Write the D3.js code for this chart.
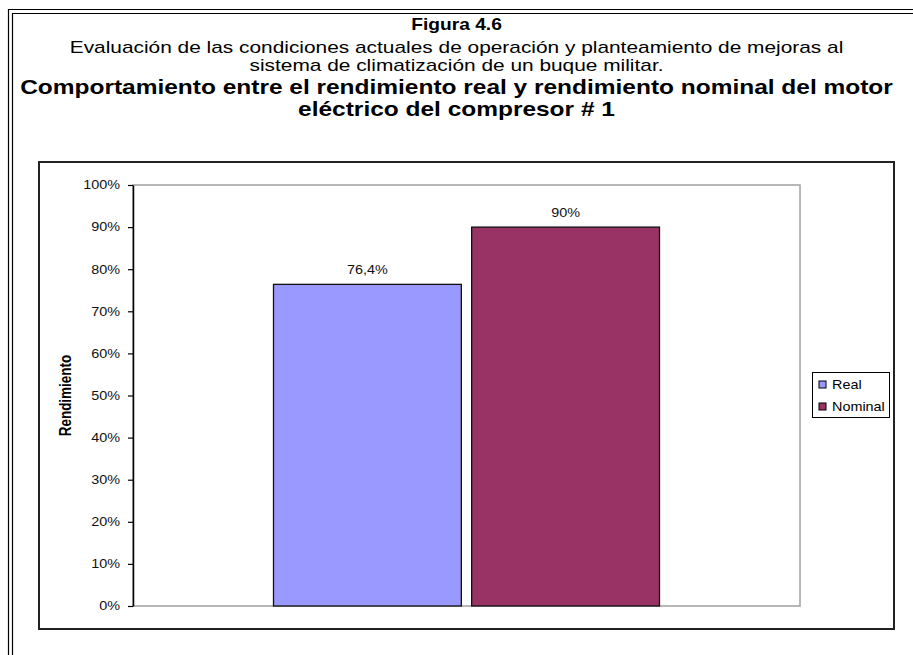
<!DOCTYPE html>
<html><head><meta charset="utf-8">
<script src="https://cdn.jsdelivr.net/npm/d3@7"></script>
<style>body{margin:0;background:#fff}svg{display:block;font-family:"Liberation Sans",Arial,sans-serif}</style>
</head><body>
<svg id="c" width="913" height="655"></svg>
<script>
const series = ["Real", "Nominal"];
const values = [0.764, 0.90];
const valueLabels = ["76,4%", "90%"];
const colors = ["#9999FF", "#993366"];
const yTicks = [0, 0.1, 0.2, 0.3, 0.4, 0.5, 0.6, 0.7, 0.8, 0.9, 1.0];
const tickLabels = ["0%","10%","20%","30%","40%","50%","60%","70%","80%","90%","100%"];
const titleLines = [
  {t:"Figura 4.6", bold:true, size:16},
  {t:"Evaluación de las condiciones actuales de operación y planteamiento de mejoras al", bold:false, size:17.4},
  {t:"sistema de climatización de un buque militar.", bold:false, size:17.4},
  {t:"Comportamiento entre el rendimiento real y rendimiento nominal del motor", bold:true, size:20.4},
  {t:"eléctrico del compresor # 1", bold:true, size:20.4}
];
const titleY = [26, 48, 66, 89, 111];
const sx = 1.2;

const svg = d3.select("#c");

// outer double border
const ob = svg.append("g").attr("fill","none").attr("stroke","#000").attr("stroke-width",1.2);
ob.append("path").attr("d","M8.5,655 V9.5 H913");
ob.append("path").attr("d","M12.5,655 V13.5 H913");

// titles
titleLines.forEach((l,i)=>{
  svg.append("text").attr("transform",`translate(456.5,${titleY[i]}) scale(${sx},1)`)
    .attr("text-anchor","middle").attr("dominant-baseline","middle")
    .attr("font-size",l.size).attr("font-weight",l.bold?"bold":"normal").attr("fill","#000").text(l.t);
});

// chart area box
svg.append("rect").attr("x",39).attr("y",162).attr("width",855).attr("height",467)
  .attr("fill","#fff").attr("stroke","#222").attr("stroke-width",2);

const plot = {l:133, r:800, t:185, b:606};
const y = d3.scaleLinear().domain([0,1]).range([plot.b, plot.t]);
const x0 = d3.scaleBand().domain(["c"]).range([plot.l, plot.r]).paddingInner(0).paddingOuter(0.364);
const x1 = d3.scaleBand().domain(series).range([0, x0.bandwidth()]).paddingInner(0.052).paddingOuter(0);

// plot area border (gray)
svg.append("rect").attr("x",plot.l).attr("y",plot.t).attr("width",plot.r-plot.l).attr("height",plot.b-plot.t)
  .attr("fill","#fff").attr("stroke","#a0a0a0").attr("stroke-width",1.5);

// bars
const g = svg.append("g").attr("transform",`translate(${x0("c")},0)`);
g.selectAll("rect.bar").data(values).join("rect").attr("class","bar")
  .attr("x",(d,i)=>x1(series[i])).attr("y",d=>y(d))
  .attr("width",x1.bandwidth()).attr("height",d=>y(0)-y(d))
  .attr("fill",(d,i)=>colors[i]).attr("stroke","#111").attr("stroke-width",1.3);

g.selectAll("text.lab").data(values).join("text").attr("class","lab")
  .attr("transform",(d,i)=>`translate(${x1(series[i])+x1.bandwidth()/2},${y(d)-10}) scale(${sx},1)`)
  .attr("text-anchor","middle").attr("font-size",12).attr("fill","#111").text((d,i)=>valueLabels[i]);

// y axis
const ax = svg.append("g").attr("transform",`translate(${plot.l},0)`)
  .call(d3.axisLeft(y).tickValues(yTicks).tickFormat((d,i)=>tickLabels[i]).tickSize(5).tickSizeOuter(0).tickPadding(8));
ax.select(".domain").attr("stroke","#000").attr("stroke-width",1.5);
ax.selectAll(".tick line").attr("stroke","#000").attr("stroke-width",1.2);
ax.selectAll(".tick text").attr("font-size",12).attr("font-family","Liberation Sans, Arial, sans-serif")
  .attr("fill","#111").attr("x",-13/sx).attr("transform",`scale(${sx},1)`);

// y title
svg.append("text").attr("transform",`translate(71,${(plot.t+plot.b)/2}) scale(${sx},1) rotate(-90)`)
  .attr("text-anchor","middle").attr("font-size",13.5).attr("font-weight","bold").attr("fill","#000").text("Rendimiento");

// legend
const lg = svg.append("g");
lg.append("rect").attr("x",812.5).attr("y",372.5).attr("width",77).attr("height",45).attr("fill","#fff").attr("stroke","#000").attr("stroke-width",1);
series.forEach((s,i)=>{
  const yy = 381 + i*22;
  lg.append("rect").attr("x",819).attr("y",yy).attr("width",7).attr("height",7).attr("fill",colors[i]).attr("stroke","#000").attr("stroke-width",1);
  lg.append("text").attr("transform",`translate(832,${yy+8}) scale(${sx},1)`).attr("font-size",12).attr("fill","#000").text(s);
});
</script>
</body></html>
